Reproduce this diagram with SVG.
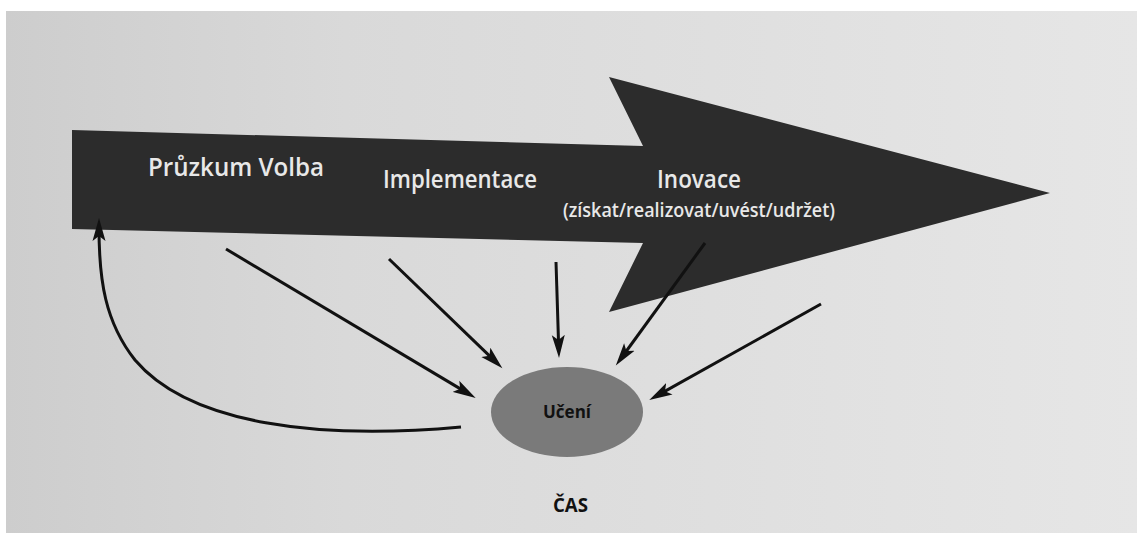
<svg xmlns="http://www.w3.org/2000/svg" width="1137" height="533" viewBox="0 0 1137 533">
  <defs>
    <linearGradient id="paper" x1="0" y1="0" x2="1" y2="0">
      <stop offset="0" stop-color="#cdcdcd"/>
      <stop offset="0.3" stop-color="#d9d9d9"/>
      <stop offset="1" stop-color="#e6e6e6"/>
    </linearGradient>
    <marker id="head" markerUnits="userSpaceOnUse" markerWidth="24" markerHeight="14" refX="13" refY="6.5" orient="auto" viewBox="0 0 24 13">
      <path d="M0,0 L23,6.5 L0,13 L5,6.5 Z" fill="#111"/>
    </marker>
    <style>
      .label { font-family: "Open Sans", "Liberation Sans", sans-serif; font-weight: 600; fill: #e8e8e8; }
      .dark { font-family: "Open Sans", "Liberation Sans", sans-serif; font-weight: 700; fill: #111; }
      .conn { fill: none; stroke: #111; stroke-width: 3; marker-end: url(#head); }
    </style>
  </defs>

  <!-- page -->
  <rect x="0" y="0" width="1137" height="533" fill="#ffffff"/>
  <rect x="6" y="11" width="1131" height="522" fill="url(#paper)"/>

  <!-- the large process arrow -->
  <g id="process-arrow">
    <polygon points="72,130 643,146 609,77 1050,193 609,312 643,243 72,229" fill="#2c2c2c"/>
    <text class="label" x="148" y="176" font-size="26" textLength="176" lengthAdjust="spacingAndGlyphs">Průzkum Volba</text>
    <text class="label" x="383" y="188" font-size="26" textLength="154" lengthAdjust="spacingAndGlyphs">Implementace</text>
    <text class="label" x="657" y="188" font-size="26" textLength="84" lengthAdjust="spacingAndGlyphs">Inovace</text>
    <text class="label" x="563" y="217" font-size="19" textLength="272" lengthAdjust="spacingAndGlyphs">(získat/realizovat/uvést/udržet)</text>
  </g>

  <!-- learning node -->
  <g id="uceni">
    <ellipse cx="567" cy="412" rx="76" ry="45" fill="#7a7a7a"/>
    <text class="dark" x="543" y="418" font-size="18" textLength="48" lengthAdjust="spacingAndGlyphs">Učení</text>
  </g>

  <!-- time label -->
  <g id="cas">
    <text class="dark" x="553" y="512" font-size="19" textLength="35" lengthAdjust="spacingAndGlyphs">ČAS</text>
  </g>

  <!-- connectors -->
  <g id="connectors">
    <path class="conn" d="M389,259 L495.2,361.4"/>
    <path class="conn" d="M226,249 L467.1,392.9"/>
    <path class="conn" d="M556,262 L558.7,348"/>
    <path class="conn" d="M705,243 L621.7,357.5"/>
    <path class="conn" d="M821,304 L658,395.1"/>
    <path class="conn" d="M461,427 C320,440 190,425 135,360 C105,322 99,280 99,228"/>
  </g>
</svg>
